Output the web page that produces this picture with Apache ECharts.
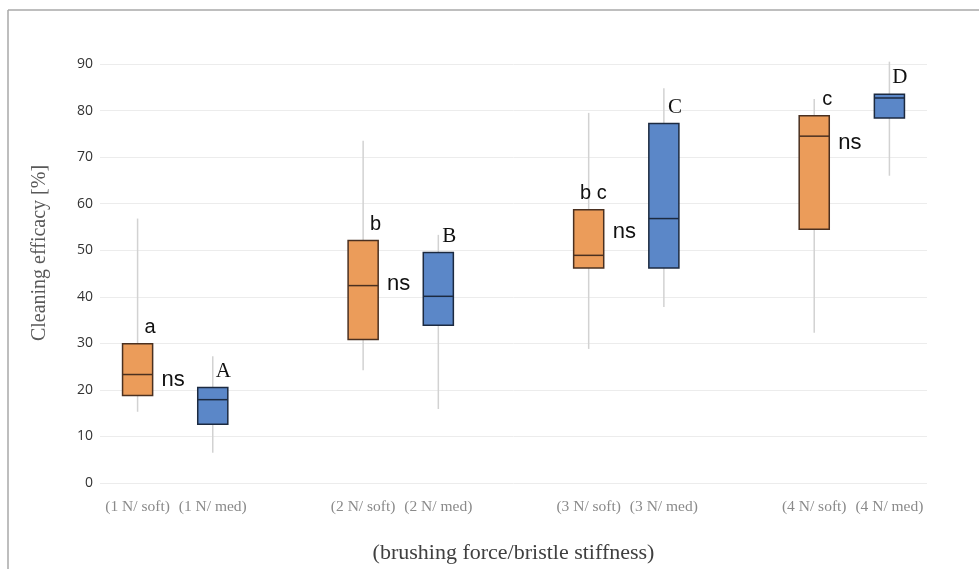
<!DOCTYPE html>
<html>
<head>
<meta charset="utf-8">
<script src="https://cdn.jsdelivr.net/npm/echarts@6/dist/echarts.min.js"></script>
<style>html,body{margin:0;padding:0;background:#fff;}#c{width:979px;height:569px;}</style>
</head>
<body>
<div id="c"></div>
<script>
const categories = ['(1 N/ soft)', '(1 N/ med)', '', '(2 N/ soft)', '(2 N/ med)', '', '(3 N/ soft)', '(3 N/ med)', '', '(4 N/ soft)', '(4 N/ med)'];
const boxCategory = [0, 1, 3, 4, 6, 7, 9, 10];
const boxType = ['soft', 'med', 'soft', 'med', 'soft', 'med', 'soft', 'med'];
const whiskerLow = [15.3, 6.5, 24.2, 15.9, 28.8, 37.8, 32.3, 66.0];
const q1 = [18.8, 12.6, 30.8, 33.9, 46.2, 46.2, 54.5, 78.4];
const median = [23.3, 17.9, 42.4, 40.1, 48.9, 56.8, 74.5, 82.7];
const q3 = [29.9, 20.5, 52.1, 49.5, 58.7, 77.2, 78.9, 83.5];
const whiskerHigh = [56.8, 27.2, 73.5, 53.3, 79.5, 84.8, 82.5, 90.5];
const letters = ['a', 'A', 'b', 'B', 'b c', 'C', 'c', 'D'];
const nsPairs = [[0, 1], [3, 4], [6, 7], [9, 10]];
const nsY = [22.1, 42.8, 54.0, 73.0];
const yTicks = [0, 10, 20, 30, 40, 50, 60, 70, 80, 90];

const fill = { soft: '#EB9C5A', med: '#5B87C8' };
const border = { soft: '#4a3020', med: '#1c2a40' };

const boxData = boxCategory.map((c, i) => [c, whiskerLow[i], q1[i], median[i], q3[i], whiskerHigh[i], i]);
const nsData = nsPairs.map((p, i) => [p[0], p[1], nsY[i]]);

const chart = echarts.init(document.getElementById('c'), null, { renderer: 'canvas' });
chart.setOption({
  animation: false,
  backgroundColor: '#fff',
  grid: { left: 100, right: 52, top: 64, bottom: 82 },
  graphic: [
    { type: 'line', shape: { x1: 8, y1: 10, x2: 979, y2: 10 }, style: { stroke: '#a8a8a8', lineWidth: 1.5 } },
    { type: 'line', shape: { x1: 8, y1: 10, x2: 8, y2: 569 }, style: { stroke: '#a8a8a8', lineWidth: 1.5 } },
    { type: 'text', x: 40, y: 253, rotation: Math.PI / 2,
      style: { text: 'Cleaning efficacy [%]', font: '20px "Liberation Serif"', fill: '#595959', align: 'center', verticalAlign: 'middle' } }
  ],
  xAxis: {
    type: 'category',
    data: categories,
    boundaryGap: true,
    axisLine: { show: false },
    axisTick: { show: false },
    axisLabel: { interval: 0, margin: 16, color: '#8a8a8a', fontFamily: 'Liberation Serif', fontSize: 15.5 },
    name: '(brushing force/bristle stiffness)',
    nameLocation: 'middle',
    nameGap: 59,
    nameTextStyle: { fontFamily: 'Liberation Serif', fontSize: 22, color: '#404040' }
  },
  yAxis: {
    type: 'value',
    min: 0, max: 90, interval: 10,
    axisLine: { show: false },
    axisTick: { show: false },
    axisLabel: { margin: 7, color: '#333', fontFamily: 'Open Sans', fontSize: 14,
      formatter: v => (yTicks.indexOf(v) >= 0 ? String(v) : '') },
    splitLine: { lineStyle: { color: '#ececec', width: 1 } }
  },
  series: [
    {
      type: 'custom',
      data: boxData,
      encode: { x: 0, y: [1, 2, 3, 4, 5] },
      renderItem: function (params, api) {
        const c = api.value(0);
        const i = api.value(6);
        const t = boxType[i];
        const pLow = api.coord([c, api.value(1)]);
        const pQ1 = api.coord([c, api.value(2)]);
        const pMed = api.coord([c, api.value(3)]);
        const pQ3 = api.coord([c, api.value(4)]);
        const pHigh = api.coord([c, api.value(5)]);
        const bw = api.size([1, 0])[0] * 0.4;
        const x = pQ1[0];
        return {
          type: 'group',
          children: [
            { type: 'line', shape: { x1: x, y1: pLow[1], x2: x, y2: pHigh[1] }, style: { stroke: '#d2d2d2', lineWidth: 1.5 } },
            { type: 'rect', shape: { x: x - bw / 2, y: pQ3[1], width: bw, height: pQ1[1] - pQ3[1] },
              style: { fill: fill[t], stroke: border[t], lineWidth: 1.5 } },
            { type: 'line', shape: { x1: x - bw / 2, y1: pMed[1], x2: x + bw / 2, y2: pMed[1] }, style: { stroke: border[t], lineWidth: 1.5 } },
            { type: 'text', x: x + bw / 2 + 3, y: pQ3[1] - 6,
              style: { text: letters[i], align: 'right', verticalAlign: 'bottom',
                font: (letters[i] === letters[i].toUpperCase() ? '21px "Liberation Serif"' : '20px "Liberation Sans"'),
                fill: '#111' } }
          ]
        };
      }
    },
    {
      type: 'custom',
      data: nsData,
      encode: { x: [0, 1], y: 2 },
      renderItem: function (params, api) {
        const a = api.coord([api.value(0), api.value(2)]);
        const b = api.coord([api.value(1), api.value(2)]);
        return { type: 'text', x: (a[0] + b[0]) / 2 - 2, y: a[1],
          style: { text: 'ns', align: 'center', verticalAlign: 'middle', font: '22px "Liberation Sans"', fill: '#111' } };
      }
    }
  ]
});
</script>
</body>
</html>
